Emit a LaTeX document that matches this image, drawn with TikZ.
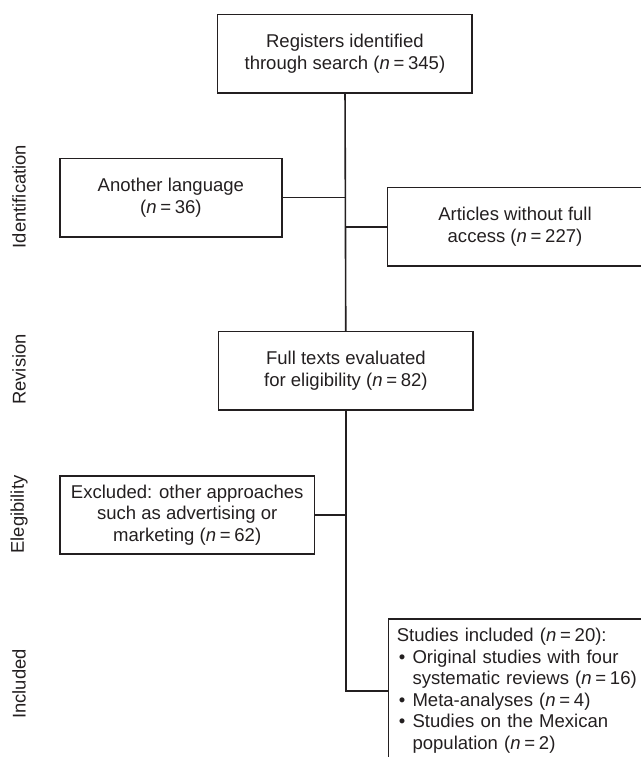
\documentclass[tikz,border=0pt]{standalone}
\usepackage{fontspec}
\setmainfont{Liberation Sans}
\definecolor{ink}{HTML}{231F20}
\newcommand{\nval}[1]{\textit{n}\hspace{0.2em}=\hspace{0.2em}#1}
\newcommand{\bul}{\makebox[11.8pt][l]{\hspace{1.5pt}\textbullet}}
\newcommand{\ind}{\hspace{11.8pt}}

\begin{document}
\begin{tikzpicture}[x=0.75pt,y=-0.75pt,font=\fontsize{13.9}{16.1}\selectfont,color=ink]
\tikzset{box/.style = {draw, line width=1.2pt, minimum width=191pt, minimum height=58.8pt, inner sep=0pt, align=center}}
\tikzset{edge/.style = {line width=1.2pt}}
\tikzset{phase/.style = {rotate=90, font=\fontsize{13.8}{16}\selectfont}}
\useasboundingbox (0,0) rectangle (641,757);

% phases
\node[phase] (idlab) at (19,196.5) {Identification};
\node[phase] (revlab) at (19,369.5) {Revision};
\node[phase] (eliglab) at (19,514.5) {Elegibility};
\node[phase] (inclab) at (19,684) {Included};

% boxes
\node[box] (reg) at (344.9,53.5) {Registers identified\\through search (\nval{345})};
\node[box, minimum width=166.8pt] (lang) at (170.9,197.5) {Another language\\(\nval{36})};
\node[box] (art) at (515,226.7) {Articles without full\\access (\nval{227})};
\node[box] (full) at (345.9,370.8) {Full texts evaluated\\for eligibility (\nval{82})};
\node[box] (excl) at (187.2,515) {Excluded: other approaches\\such as advertising or\\marketing (\nval{62})};
\node[box, anchor=west, align=left, text width=200pt, inner xsep=6.3pt, minimum height=107.8pt] (incl) at (387.6,690.7)
  {Studies included (\nval{20}):\\
   \bul Original studies with four\\
   \ind systematic reviews (\nval{16})\\
   \bul Meta-analyses (\nval{4})\\
   \bul Studies on the Mexican\\
   \ind population (\nval{2})};

% connectors
\draw[edge] (reg) -- (full);
\draw[edge] (lang) -- (lang -| reg.south);
\draw[edge] (art) -- (art -| reg.south);
\draw[edge] (excl) -- (excl -| full.south);
\draw[edge] (full) |- (incl);
\end{tikzpicture}
\end{document}
